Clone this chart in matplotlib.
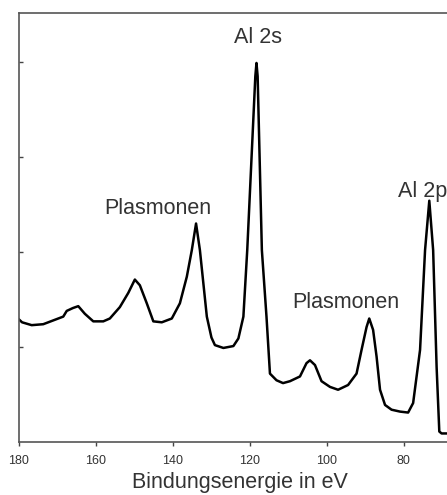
import matplotlib
matplotlib.use("Agg")
import matplotlib.pyplot as plt

energy = [180.0, 179.2, 176.7, 173.7, 171.1, 168.5, 167.6, 166.0, 164.6, 162.9,
          160.7, 158.1, 156.4, 153.8, 151.6, 149.9, 148.6, 146.8, 145.1, 142.9,
          140.3, 138.2, 136.4, 135.1, 134.0, 133.0, 131.2, 130.0, 129.1, 126.9,
          124.3, 123.0, 121.7, 120.7, 118.6, 118.3, 118.0, 116.9, 115.7, 114.8,
          113.1, 111.4, 109.6, 107.0, 105.3, 104.4, 103.1, 101.4, 99.2, 97.1,
          94.5, 92.3, 91.0, 89.7, 89.0, 88.0, 87.1, 86.2, 84.9, 83.2,
          81.0, 78.9, 77.6, 75.8, 74.5, 73.4, 72.4, 71.5, 70.8, 70.2, 68.8]
intensity = [1.29, 1.26, 1.23, 1.24, 1.28, 1.32, 1.38, 1.41, 1.43, 1.35,
             1.27, 1.27, 1.30, 1.42, 1.57, 1.71, 1.65, 1.46, 1.27, 1.26,
             1.30, 1.46, 1.74, 2.02, 2.30, 2.02, 1.32, 1.10, 1.02, 0.99,
             1.01, 1.09, 1.32, 2.02, 3.85, 3.99, 3.85, 2.02, 1.32, 0.72,
             0.65, 0.62, 0.64, 0.69, 0.83, 0.86, 0.81, 0.64, 0.58, 0.55,
             0.60, 0.72, 0.97, 1.21, 1.30, 1.18, 0.90, 0.55, 0.39, 0.34,
             0.32, 0.31, 0.41, 0.97, 2.02, 2.54, 2.02, 0.79, 0.11, 0.09, 0.09]

x_ticks = [180, 160, 140, 120, 100, 80]
y_ticks = [1, 2, 3, 4]

labels = ["Al 2s", "Plasmonen", "Al 2p", "Plasmonen"]
label_pos = [(118.0, 4.20), (143.9, 2.40), (81.6, 2.58), (95.1, 1.41)]
label_ha = ["center", "center", "left", "center"]

plt.rcParams['font.family'] = ['Liberation Sans', 'DejaVu Sans']
W, H = 447, 495
fig = plt.figure(figsize=(W / 100, H / 100), dpi=100)
ax = fig.add_axes([19 / W, (H - 442) / H, (W - 19) / W, (442 - 13) / H])
ax.plot(energy, intensity, color='black', lw=1.8, solid_joinstyle='round')
ax.set_xlim(180, 68.8)
ax.set_ylim(0, 4.516)
ax.set_xticks(x_ticks)
ax.set_yticks(y_ticks)
ax.set_yticklabels([])
ax.tick_params(axis='x', direction='out', length=3, width=1, color='#444444',
               labelsize=9, labelcolor='#333333', pad=6)
ax.tick_params(axis='y', direction='in', length=3, width=1, color='#444444')
for side in ['left', 'top', 'bottom']:
    ax.spines[side].set_color('#555555')
    ax.spines[side].set_linewidth(1.2)
ax.spines['right'].set_visible(False)

for txt, (xx, yy), ha in zip(labels, label_pos, label_ha):
    ax.text(xx, yy, txt, ha=ha, va='baseline', fontsize=15.5,
            color='#333333', clip_on=False)

fig.text(240 / W, (H - 488) / H, "Bindungsenergie in eV", ha='center',
         va='baseline', fontsize=15.5, color='#333333')
fig.savefig("out.png", dpi=100)
